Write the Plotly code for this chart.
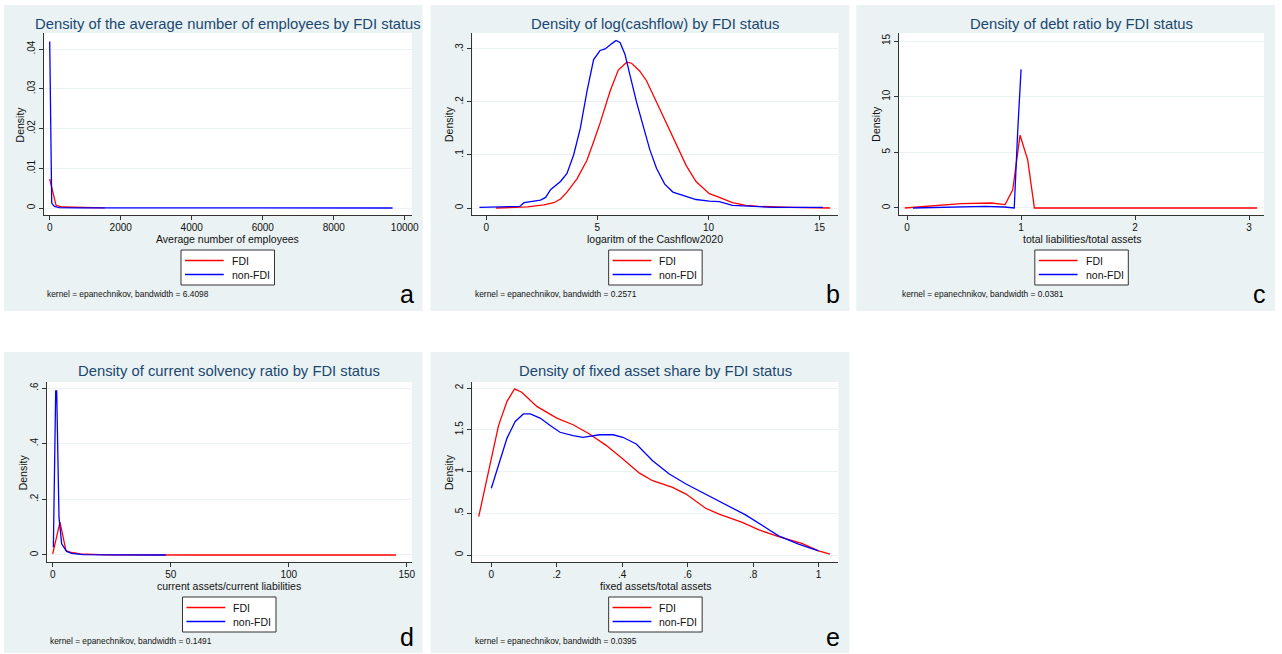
import plotly.graph_objects as go

W, H = 1282, 654

# ------------------------------------------------------------------ data
series_names = ["FDI", "non-FDI"]

# a) average number of employees
emp_fdi_x = [0, 65, 178, 365, 832, 1200, 1550]
emp_fdi_y = [0.0073, 0.0046, 0.00067, 0.00025, 0.00017, 0.0001, 0.00005]
emp_non_x = [0, 56, 131, 271, 800, 3000, 6000, 9655]
emp_non_y = [0.0419, 0.00125, 0.0004, 0.0001, 0.00003, 0.0, 0.0, 0.0]

# b) log(cashflow)
cf_fdi_x = [0.43, 1.85, 2.59, 3.04, 3.34, 3.63, 4.08, 4.53, 4.83, 5.12, 5.57, 5.94,
            6.32, 6.54, 6.91, 7.21, 7.66, 8.1, 8.55, 9.0, 9.44, 10.04, 10.49, 11.08,
            11.68, 12.27, 13.76, 15.48]
cf_fdi_y = [0.0, 0.002, 0.006, 0.01, 0.017, 0.03, 0.055, 0.09, 0.125, 0.16, 0.22, 0.26,
            0.275, 0.273, 0.258, 0.24, 0.2, 0.16, 0.12, 0.08, 0.05, 0.027, 0.02, 0.01,
            0.005, 0.003, 0.001, 0.0]
cf_non_x = [-0.31, 1.5, 1.7, 2.44, 2.67, 2.9, 3.34, 3.63, 3.93, 4.23, 4.53, 4.83, 5.12,
            5.35, 5.65, 5.84, 6.02, 6.24, 6.47, 6.76, 7.06, 7.36, 7.66, 8.03, 8.4, 8.85,
            9.44, 10.04, 10.49, 11.08, 11.98, 13.0, 15.15]
cf_non_y = [0.001, 0.003, 0.01, 0.015, 0.02, 0.035, 0.05, 0.065, 0.1, 0.15, 0.22, 0.28,
            0.297, 0.30, 0.31, 0.316, 0.312, 0.29, 0.25, 0.2, 0.155, 0.11, 0.075, 0.045,
            0.03, 0.024, 0.016, 0.013, 0.012, 0.005, 0.003, 0.001, 0.001]

# c) debt ratio
debt_fdi_x = [-0.02, 0.475, 0.74, 0.86, 0.927, 0.991, 1.058, 1.117, 2.0, 3.07]
debt_fdi_y = [0.0, 0.39, 0.45, 0.3, 1.64, 6.54, 4.33, 0.0, 0.0, 0.0]
debt_non_x = [0.052, 0.417, 0.68, 0.854, 0.94, 0.971, 1.0]
debt_non_y = [0.0, 0.06, 0.15, 0.09, 0.0, 7.0, 12.45]

# d) current solvency ratio
solv_fdi_x = [0, 3.08, 5.6, 7.3, 11.5, 22.7, 60, 145.4]
solv_fdi_y = [0.004, 0.118, 0.016, 0.01, 0.004, 0.0005, 0.0, 0.0]
solv_non_x = [0.28, 1.26, 1.68, 2.66, 3.78, 5.9, 8.0, 12.9, 25, 47.9]
solv_non_y = [0.028, 0.59, 0.59, 0.136, 0.04, 0.013, 0.006, 0.001, 0.0005, 0.0]

# e) fixed asset share
fix_fdi_x = [-0.0385, 0.022, 0.048, 0.071, 0.093, 0.139, 0.2, 0.25, 0.3, 0.352, 0.402,
             0.453, 0.493, 0.554, 0.595, 0.655, 0.696, 0.767, 0.818, 0.878, 0.949, 1.0, 1.035]
fix_fdi_y = [0.46, 1.55, 1.84, 1.99, 1.95, 1.78, 1.64, 1.56, 1.45, 1.31, 1.15,
             0.98, 0.89, 0.81, 0.73, 0.56, 0.49, 0.39, 0.3, 0.22, 0.14, 0.05, 0.01]
fix_non_x = [0.0, 0.048, 0.073, 0.098, 0.119, 0.149, 0.18, 0.21, 0.25, 0.28, 0.331, 0.372,
             0.402, 0.443, 0.493, 0.544, 0.595, 0.655, 0.716, 0.777, 0.838, 0.878, 0.939, 1.0]
fix_non_y = [0.8, 1.4, 1.6, 1.69, 1.69, 1.64, 1.55, 1.47, 1.43, 1.41, 1.44, 1.44,
             1.41, 1.33, 1.13, 0.97, 0.85, 0.73, 0.6, 0.48, 0.33, 0.23, 0.13, 0.05]

titles = ["Density of the average number of employees by FDI status",
          "Density of log(cashflow) by FDI status",
          "Density of debt ratio by FDI status",
          "Density of current solvency ratio by FDI status",
          "Density of fixed asset share by FDI status"]
xtitles = ["Average number of employees", "logaritm of the Cashflow2020",
           "total liabilities/total assets", "current assets/current liabilities",
           "fixed assets/total assets"]
ytitle = "Density"
bandwidths = ["6.4098", "0.2571", "0.0381", "0.1491", "0.0395"]
letters = ["a", "b", "c", "d", "e"]

xtick_vals = [[0, 2000, 4000, 6000, 8000, 10000], [0, 5, 10, 15], [0, 1, 2, 3],
              [0, 50, 100, 150], [0, 0.2, 0.4, 0.6, 0.8, 1]]
xtick_text = [["0", "2000", "4000", "6000", "8000", "10000"], ["0", "5", "10", "15"],
              ["0", "1", "2", "3"], ["0", "50", "100", "150"],
              ["0", ".2", ".4", ".6", ".8", "1"]]
ytick_vals = [[0, 0.01, 0.02, 0.03, 0.04], [0, 0.1, 0.2, 0.3], [0, 5, 10, 15],
              [0, 0.2, 0.4, 0.6], [0, 0.5, 1, 1.5, 2]]
ytick_text = [["0", ".01", ".02", ".03", ".04"], ["0", ".1", ".2", ".3"],
              ["0", "5", "10", "15"], ["0", ".2", ".4", ".6"],
              ["0", ".5", "1", "1.5", "2"]]

panel_data = [
    (emp_fdi_x, emp_fdi_y, emp_non_x, emp_non_y),
    (cf_fdi_x, cf_fdi_y, cf_non_x, cf_non_y),
    (debt_fdi_x, debt_fdi_y, debt_non_x, debt_non_y),
    (solv_fdi_x, solv_fdi_y, solv_non_x, solv_non_y),
    (fix_fdi_x, fix_fdi_y, fix_non_x, fix_non_y),
]

# ------------------------------------------------------------------ layout (pixels)
bg_boxes = [(4, 5, 425, 311), (433, 5, 854, 311), (861, 5, 1282, 311),
            (4, 352, 425, 653), (433, 352, 854, 653)]
plot_boxes = [(44, 33, 414, 215), (475, 33, 843, 215), (904, 33, 1271, 215),
              (47, 382, 414, 562), (475, 382, 843, 562)]
x_ranges = [(-168, 10196), (-0.627, 15.85), (-0.070, 3.131), (-2.53, 152.1), (-0.0578, 1.0608)]
y_ranges = [(-0.00176, 0.04403), (-0.0132, 0.330), (-0.63, 15.72), (-0.0252, 0.6216), (-0.0838, 2.072)]

BG = "#eaf2f3"
TITLE_C = "#1a476f"
FONT = "Liberation Sans, Arial, sans-serif"
COLORS = ["#ff0000", "#0000ff"]
TXT = "#111111"


def px(xp):
    return xp / W


def py(yp):
    return 1 - yp / H


fig = go.Figure()
layout = dict(width=W, height=H, margin=dict(l=0, r=0, t=0, b=0),
              paper_bgcolor="white", plot_bgcolor="white",
              font=dict(family=FONT, color="#000000"), showlegend=False)
shapes = []
annotations = []

for i in range(5):
    n = "" if i == 0 else str(i + 1)
    xa, ya = "x" + n, "y" + n
    fx, fy, nx, ny = panel_data[i]
    for (sx, sy), name, col in zip([(fx, fy), (nx, ny)], series_names, COLORS):
        fig.add_trace(go.Scatter(x=sx, y=sy, mode="lines", name=name,
                                 line=dict(color=col, width=1.3), xaxis=xa, yaxis=ya,
                                 showlegend=False))
    l, t, r, b = plot_boxes[i]
    layout["xaxis" + n] = dict(
        domain=[px(l), px(r)], range=list(x_ranges[i]), anchor=ya,
        tickvals=xtick_vals[i], ticktext=xtick_text[i], showgrid=False, zeroline=False,
        showline=True, linecolor="#333333", linewidth=1, ticks="outside", ticklen=4,
        tickcolor="#333333", tickfont=dict(size=10, family=FONT, color=TXT),
        ticklabelstandoff=-1, fixedrange=True)
    layout["yaxis" + n] = dict(
        domain=[py(b), py(t)], range=list(y_ranges[i]), anchor=xa,
        tickvals=ytick_vals[i], ticktext=ytick_text[i], tickangle=-90,
        showgrid=True, gridcolor=BG, gridwidth=1, zeroline=False,
        showline=True, linecolor="#333333", linewidth=1, ticks="outside", ticklen=4,
        tickcolor="#333333", tickfont=dict(size=10, family=FONT, color=TXT),
        fixedrange=True)
    # panel background and white plot region
    bx0, by0, bx1, by1 = bg_boxes[i]
    shapes.append(dict(type="rect", xref="paper", yref="paper", x0=px(bx0), x1=px(bx1),
                       y0=py(by1), y1=py(by0), fillcolor=BG, line=dict(width=0),
                       layer="below"))
    shapes.append(dict(type="rect", xref=xa + " domain", yref=ya + " domain", x0=0, x1=1,
                       y0=0, y1=1, fillcolor="white", line=dict(width=0), layer="below"))
    cx = (l + r) / 2
    cy = (t + b) / 2
    # axis titles
    annotations.append(dict(text=xtitles[i], xref="paper", yref="paper", x=px(cx),
                            y=py(b + 24), xanchor="center", yanchor="middle",
                            showarrow=False, font=dict(size=10.5, family=FONT, color=TXT)))
    annotations.append(dict(text=ytitle, xref="paper", yref="paper", x=px(l - 23.5),
                            y=py(cy), xanchor="center", yanchor="middle", textangle=-90,
                            showarrow=False, font=dict(size=10.5, family=FONT, color=TXT)))
    # legend box (Stata style)
    lt = 250 if i < 3 else 597
    lb = lt + 35
    shapes.append(dict(type="rect", xref="paper", yref="paper", x0=px(cx - 47),
                       x1=px(cx + 47), y0=py(lb), y1=py(lt), fillcolor="white",
                       line=dict(color="#333333", width=1)))
    for k, (name, col) in enumerate(zip(series_names, COLORS)):
        ry = lt + 10.5 + 14 * k
        shapes.append(dict(type="line", xref="paper", yref="paper", x0=px(cx - 43),
                           x1=px(cx - 4), y0=py(ry), y1=py(ry),
                           line=dict(color=col, width=1.3)))
        annotations.append(dict(text=name, xref="paper", yref="paper", x=px(cx + 2),
                                y=py(ry), xanchor="left", yanchor="middle",
                                showarrow=False,
                                font=dict(size=10.5, family=FONT, color=TXT)))
    # title
    title_y = 24 if i < 3 else 371
    annotations.append(dict(text=titles[i], xref="paper", yref="paper", x=px(cx),
                            y=py(title_y), xanchor="center", yanchor="middle",
                            showarrow=False, font=dict(size=14.8, family=FONT, color=TITLE_C)))
    # note
    note_y = 294 if i < 3 else 641
    annotations.append(dict(text="kernel = epanechnikov, bandwidth = " + bandwidths[i],
                            xref="paper", yref="paper", x=px(l + 1), y=py(note_y),
                            xanchor="left", yanchor="middle", showarrow=False,
                            font=dict(size=8.4, family=FONT, color=TXT)))
    # panel letter
    letter_y = 294 if i < 3 else 637
    annotations.append(dict(text=letters[i], xref="paper", yref="paper", x=px(bx1 - 16),
                            y=py(letter_y), xanchor="center", yanchor="middle",
                            showarrow=False, font=dict(size=25, family=FONT, color="#000000")))

layout["shapes"] = shapes
layout["annotations"] = annotations
fig.update_layout(**layout)
fig.write_html("out.html", config={"displayModeBar": False},
               post_script="document.body.style.margin='0';document.body.style.overflow='hidden';")
